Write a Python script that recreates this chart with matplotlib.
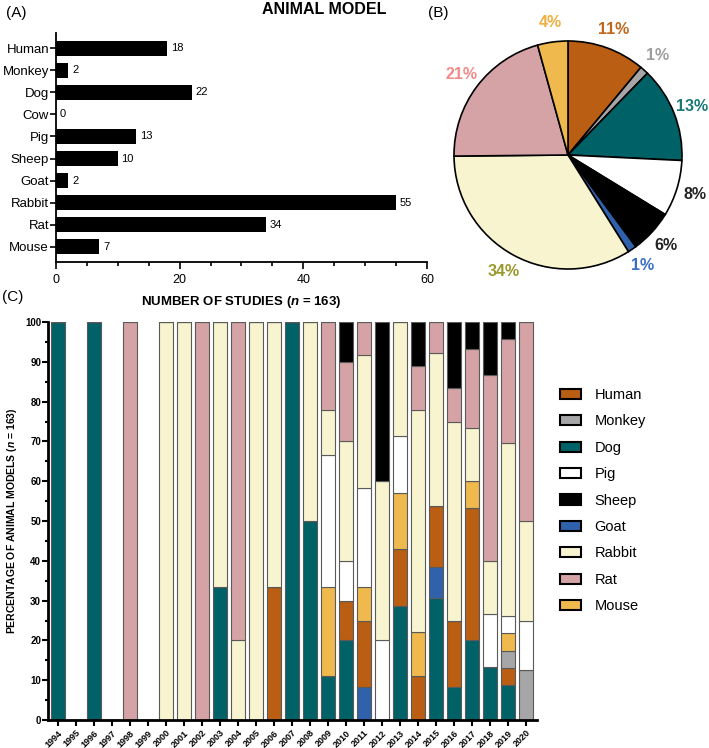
import numpy as np
import matplotlib.pyplot as plt
from matplotlib.patches import Patch
from matplotlib.ticker import MultipleLocator

plt.rcParams['font.family'] = ['Liberation Sans', 'DejaVu Sans']
plt.rcParams['mathtext.fontset'] = 'custom'
plt.rcParams['mathtext.rm'] = 'Liberation Sans'
plt.rcParams['mathtext.it'] = 'Liberation Sans:italic'
plt.rcParams['mathtext.bf'] = 'Liberation Sans:bold'
plt.rcParams['mathtext.bfit'] = 'Liberation Sans:italic:bold'

# panel A / B data
animals = ['Human', 'Monkey', 'Dog', 'Cow', 'Pig', 'Sheep', 'Goat', 'Rabbit', 'Rat', 'Mouse']
n_studies = [18, 2, 22, 0, 13, 10, 2, 55, 34, 7]

colors = {'Human': '#b95e12', 'Monkey': '#a6a6a8', 'Dog': '#006266', 'Cow': '#ffffff',
          'Pig': '#ffffff', 'Sheep': '#000000', 'Goat': '#2f62ab', 'Rabbit': '#f8f4cf',
          'Rat': '#d5a2a5', 'Mouse': '#f0b94d'}
pct_colors = {'Human': '#c0671c', 'Monkey': '#9e9e9e', 'Dog': '#1a7878', 'Pig': '#222222',
              'Sheep': '#222222', 'Goat': '#3b6fc4', 'Rabbit': '#9a992c', 'Rat': '#f38a8a',
              'Mouse': '#f0b040'}

# panel C data: studies per year for each animal
years = list(range(1994, 2021))
dog    = [1,0,1,0,0,0, 0,0,0,1,0,0,0,1,1,1,2,0,0,2,0,4,1,3,2,2,0]
goat   = [0,0,0,0,0,0, 0,0,0,0,0,0,0,0,0,0,0,1,0,0,0,1,0,0,0,0,0]
human  = [0,0,0,0,0,0, 0,0,0,0,0,0,2,0,0,0,1,2,0,1,1,2,2,5,0,1,0]
monkey = [0,0,0,0,0,0, 0,0,0,0,0,0,0,0,0,0,0,0,0,0,0,0,0,0,0,1,1]
mouse  = [0,0,0,0,0,0, 0,0,0,0,0,0,0,0,0,2,0,1,0,1,1,0,0,1,0,1,0]
pig    = [0,0,0,0,0,0, 0,0,0,0,0,0,0,0,0,3,1,3,1,1,0,0,0,0,2,1,1]
rabbit = [0,0,0,0,0,0, 1,1,0,2,1,1,4,0,1,1,3,4,2,2,5,5,6,2,2,10,2]
rat    = [0,0,0,0,1,0, 0,0,1,0,4,0,0,0,0,2,2,1,0,0,1,1,1,3,7,6,4]
sheep  = [0,0,0,0,0,0, 0,0,0,0,0,0,0,0,0,0,1,0,2,0,1,0,2,1,2,1,0]

stack_order = ['Dog', 'Goat', 'Human', 'Monkey', 'Mouse', 'Pig', 'Rabbit', 'Rat', 'Sheep']
stack_data = [dog, goat, human, monkey, mouse, pig, rabbit, rat, sheep]
legend_order = ['Human', 'Monkey', 'Dog', 'Pig', 'Sheep', 'Goat', 'Rabbit', 'Rat', 'Mouse']

fig = plt.figure(figsize=(7.09, 7.48), dpi=100)
W, H = 709, 748

def box(x0, y0, x1, y1):
    # pixel box -> figure fraction
    return [x0 / W, 1 - y1 / H, (x1 - x0) / W, (y1 - y0) / H]

# ---------------- (A) ----------------
ax1 = fig.add_axes(box(56, 33, 427, 262))
ypos = np.arange(len(animals))
ax1.barh(ypos, n_studies, height=0.68, color='black')
for y, v in zip(ypos, n_studies):
    ax1.text(v + 0.6, y, str(v), va='center', ha='left', fontsize=8)
ax1.set_yticks(ypos)
ax1.set_yticklabels(animals, fontsize=9.5)
ax1.set_ylim(9.68, -0.68)
ax1.set_xlim(0, 60)
ax1.set_xticks([0, 20, 40, 60])
ax1.xaxis.set_minor_locator(MultipleLocator(5))
ax1.tick_params(axis='x', labelsize=9, length=5, width=1.2)
ax1.tick_params(axis='x', which='minor', length=3, width=1.2)
ax1.tick_params(axis='y', length=4, width=1.2, pad=1)
for s in ['top', 'right']:
    ax1.spines[s].set_visible(False)
for s in ['left', 'bottom']:
    ax1.spines[s].set_linewidth(1.3)
ax1.set_xlabel('NUMBER OF STUDIES (' + r'$\mathbfit{n}$' + ' = 163)',
               fontsize=9.5, fontweight='bold', labelpad=6)

fig.text(6 / W, 1 - 13 / H, '(A)', fontsize=11, va='center', ha='left')
fig.text(324 / W, 1 - 10 / H, 'ANIMAL MODEL', fontsize=11.5, fontweight='heavy',
         va='center', ha='center')
fig.text(428 / W, 1 - 13 / H, '(B)', fontsize=11, va='center', ha='left')
fig.text(2 / W, 1 - 297 / H, '(C)', fontsize=11, va='center', ha='left')

# ---------------- (B) ----------------
pie_names = [a for a, v in zip(animals, n_studies) if v > 0]
pie_vals = [v for v in n_studies if v > 0]
ax2 = fig.add_axes(box(568 - 114, 155 - 114, 568 + 114, 155 + 114))
wedges, texts, autotexts = ax2.pie(
    pie_vals, colors=[colors[a] for a in pie_names], startangle=90, counterclock=False,
    autopct=lambda p: '%d%%' % round(p), pctdistance=1.17,
    wedgeprops=dict(edgecolor='black', linewidth=1.2),
    textprops=dict(fontsize=11.5, fontweight='bold'))
for t, a in zip(autotexts, pie_names):
    t.set_color(pct_colors[a])
    t.set_clip_on(False)
ax2.set_xlim(-1, 1)
ax2.set_ylim(-1, 1)
ax2.set_aspect('auto')

# ---------------- (C) ----------------
ax3 = fig.add_axes(box(48, 322, 537, 720))
counts = np.array(stack_data, dtype=float)
totals = counts.sum(axis=0)
pct = np.divide(counts * 100, totals, out=np.zeros_like(counts), where=totals > 0)
bottom = np.zeros(len(years))
for name, row in zip(stack_order, pct):
    ax3.bar(years, row, bottom=bottom, width=0.8, color=colors[name],
            edgecolor='#5a5a5a', linewidth=0.8)
    bottom += row
ax3.set_xlim(years[0] - 0.56, years[-1] + 0.61)
ax3.set_ylim(0, 100)
ax3.set_xticks(years)
ax3.set_xticklabels([str(y) for y in years], rotation=45, ha='right',
                    rotation_mode='anchor', fontsize=6.5, fontweight='bold')
ax3.set_yticks(range(0, 101, 10))
ax3.yaxis.set_minor_locator(MultipleLocator(5))
for lab in ax3.get_yticklabels():
    lab.set_fontweight('bold')
ax3.tick_params(axis='y', labelsize=7, length=4, width=1.5, pad=1)
ax3.tick_params(axis='y', which='minor', length=2.5, width=1.5)
ax3.tick_params(axis='x', length=4, width=1.5, pad=2)
for s in ['top', 'right']:
    ax3.spines[s].set_visible(False)
for s in ['left', 'bottom']:
    ax3.spines[s].set_linewidth(2)
ax3.set_ylabel('PERCENTAGE OF ANIMAL MODELS (' + r'$\mathbfit{n}$' + ' = 163)',
               fontsize=7.5, fontweight='bold', labelpad=4)

handles = [Patch(facecolor=colors[a], edgecolor='black', linewidth=1.5) for a in legend_order]
fig.legend(handles, legend_order, loc='upper left', bbox_to_anchor=(560 / W, 1 - 388 / H),
           frameon=False, fontsize=10.5, borderpad=0, borderaxespad=0,
           handlelength=1.45, handleheight=0.7, handletextpad=0.9, labelspacing=0.85)

fig.savefig('out.png', dpi=100)
